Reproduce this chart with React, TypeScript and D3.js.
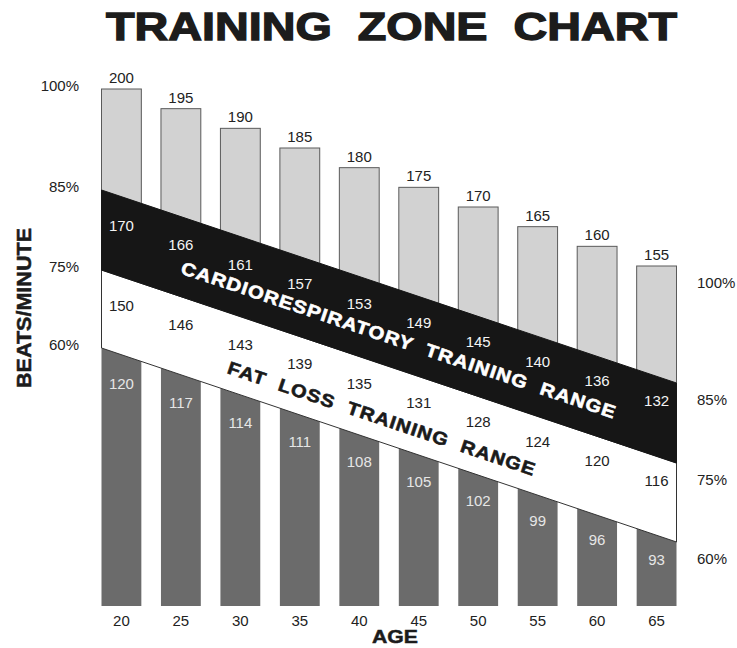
import React from "react";
import * as d3 from "d3";

const ages = [20, 25, 30, 35, 40, 45, 50, 55, 60, 65];
const maxHR = [200, 195, 190, 185, 180, 175, 170, 165, 160, 155];
const hr85 = [170, 166, 161, 157, 153, 149, 145, 140, 136, 132];
const hr75 = [150, 146, 143, 139, 135, 131, 128, 124, 120, 116];
const hr60 = [120, 117, 114, 111, 108, 105, 102, 99, 96, 93];
const zonePcts = [100, 85, 75, 60];
const zoneLabels = ["100%", "85%", "75%", "60%"];
const title = "TRAINING  ZONE  CHART";
const yTitle = "BEATS/MINUTE";
const xTitle = "AGE";
const cardioText = "CARDIORESPIRATORY  TRAINING  RANGE";
const fatText = "FAT  LOSS  TRAINING  RANGE";

const W = 737;
const H = 648;
const X0 = 101.5;
const X1 = 676.5;
const BASE = 606;
const FONT = "'Liberation Sans', Arial, Helvetica, sans-serif";

export default function App() {
  const x = d3.scaleBand<number>().domain(ages).range([X0, X1]).paddingInner(0.33).paddingOuter(0);
  const bw = x.bandwidth();
  const yMax = d3.scaleLinear().domain([155, 200]).range([266, 89]);
  // zone boundary lines (schematic): position at left and right end of the chart
  const zoneLeft = d3.scaleLinear().domain([60, 75, 85]).range([348, 270, 190]);
  const zoneRight = d3.scaleLinear().domain([60, 75, 85]).range([542, 463, 383]);
  const t = d3.scaleLinear().domain([X0, X1]).range([0, 1]);
  const zoneY = (p: number, px: number) => d3.interpolateNumber(zoneLeft(p), zoneRight(p))(t(px));
  const cx = (a: number) => (x(a) as number) + bw / 2;
  const labelOff = d3.scaleLinear().domain([cx(ages[0]), cx(ages[ages.length - 1])]).range([29, 24]);
  const angle = (Math.atan2(zoneRight(85) - zoneLeft(85), X1 - X0) * 180) / Math.PI;

  const band = (pTop: number, pBot: number) =>
    d3.line()([
      [X0, zoneY(pTop, X0)],
      [X1, zoneY(pTop, X1)],
      [X1, zoneY(pBot, X1)],
      [X0, zoneY(pBot, X0)],
    ]) + "Z";

  const cardioCx = 399;
  const cardioCy = (zoneY(85, cardioCx) + zoneY(75, cardioCx)) / 2 + 10;
  const fatCx = 382;
  const fatCy = (zoneY(75, fatCx) + zoneY(60, fatCx)) / 2 + 15;

  const leftLabelY = [yMax(200), zoneLeft(85), zoneLeft(75), zoneLeft(60)];
  const rightLabelY = [yMax(155), zoneRight(85), zoneRight(75), zoneRight(60)];

  return (
    <svg
      width={W}
      height={H}
      style={{ position: "absolute", left: 0, top: 0, background: "#fff" }}
      fontFamily={FONT}
    >
      <rect width={W} height={H} fill="#fff" />
      <text
        x={(105 + 678) / 2}
        y={40}
        textAnchor="middle"
        fontSize={38}
        fontWeight="bold"
        fill="#1c1c1c"
        stroke="#1c1c1c"
        strokeWidth={1.3}
        textLength={571}
        lengthAdjust="spacingAndGlyphs"
        style={{ whiteSpace: "pre" }}
      >
        {title}
      </text>

      {/* light grey upper bars */}
      {ages.map((a, i) => (
        <rect
          key={"l" + a}
          x={x(a)}
          y={yMax(maxHR[i])}
          width={bw}
          height={zoneY(85, (x(a) as number) + bw) - yMax(maxHR[i]) + 6}
          fill="#d2d2d2"
          stroke="#5a5a5a"
          strokeWidth={1}
        />
      ))}
      {/* dark lower bars */}
      {ages.map((a) => (
        <rect
          key={"d" + a}
          x={x(a)}
          y={zoneY(60, x(a) as number) - 6}
          width={bw}
          height={BASE - zoneY(60, x(a) as number) + 6}
          fill="#6b6b6b"
        />
      ))}
      {/* fat loss band */}
      <path d={band(75, 60)} fill="#fff" stroke="#333" strokeWidth={1} />
      {/* cardio band */}
      <path d={band(85, 75)} fill="#161616" stroke="#161616" strokeWidth={1} />

      {/* band texts */}
      <text
        transform={`translate(${cardioCx},${cardioCy}) rotate(${angle})`}
        textAnchor="middle"
        dy="0.36em"
        fontSize={18}
        fontWeight="bold"
        fill="#fff"
        stroke="#fff"
        strokeWidth={0.6}
        letterSpacing={1}
        textLength={458}
        lengthAdjust="spacingAndGlyphs"
        style={{ whiteSpace: "pre" }}
      >
        {cardioText}
      </text>
      <text
        transform={`translate(${fatCx},${fatCy}) rotate(${angle})`}
        textAnchor="middle"
        dy="0.36em"
        fontSize={18}
        fontWeight="bold"
        fill="#1a1a1a"
        stroke="#1a1a1a"
        strokeWidth={0.6}
        letterSpacing={1}
        textLength={324}
        lengthAdjust="spacingAndGlyphs"
        style={{ whiteSpace: "pre" }}
      >
        {fatText}
      </text>

      {/* value labels */}
      {ages.map((a, i) => (
        <g key={"v" + a} fontSize={15} textAnchor="middle">
          <text x={cx(a)} y={yMax(maxHR[i]) - 6} fill="#222">
            {maxHR[i]}
          </text>
          <text x={cx(a)} y={zoneY(85, cx(a)) + labelOff(cx(a))} dy="0.35em" fill="#f4f4f4">
            {hr85[i]}
          </text>
          <text x={cx(a)} y={zoneY(75, cx(a)) + labelOff(cx(a))} dy="0.35em" fill="#222">
            {hr75[i]}
          </text>
          <text x={cx(a)} y={zoneY(60, cx(a)) + labelOff(cx(a))} dy="0.35em" fill="#e6e6e6">
            {hr60[i]}
          </text>
          <text x={cx(a)} y={626} fill="#222">
            {a}
          </text>
        </g>
      ))}

      {/* percent labels */}
      {zonePcts.map((p, i) => (
        <text key={"pl" + p} x={79} y={leftLabelY[i] - 3} dy="0.35em" textAnchor="end" fontSize={15} fill="#222">
          {zoneLabels[i]}
        </text>
      ))}
      {zonePcts.map((p, i) => (
        <text key={"pr" + p} x={697} y={rightLabelY[i] + 17} dy="0.35em" textAnchor="start" fontSize={15} fill="#222">
          {zoneLabels[i]}
        </text>
      ))}

      <text
        transform={`translate(31,308) rotate(-90)`}
        textAnchor="middle"
        fontSize={20}
        fontWeight="bold"
        fill="#1c1c1c"
        stroke="#1c1c1c"
        strokeWidth={0.5}
        textLength={160}
        lengthAdjust="spacingAndGlyphs"
      >
        {yTitle}
      </text>
      <text
        x={395}
        y={643}
        textAnchor="middle"
        fontSize={19}
        fontWeight="bold"
        fill="#1c1c1c"
        stroke="#1c1c1c"
        strokeWidth={0.5}
        textLength={46}
        lengthAdjust="spacingAndGlyphs"
      >
        {xTitle}
      </text>
    </svg>
  );
}
